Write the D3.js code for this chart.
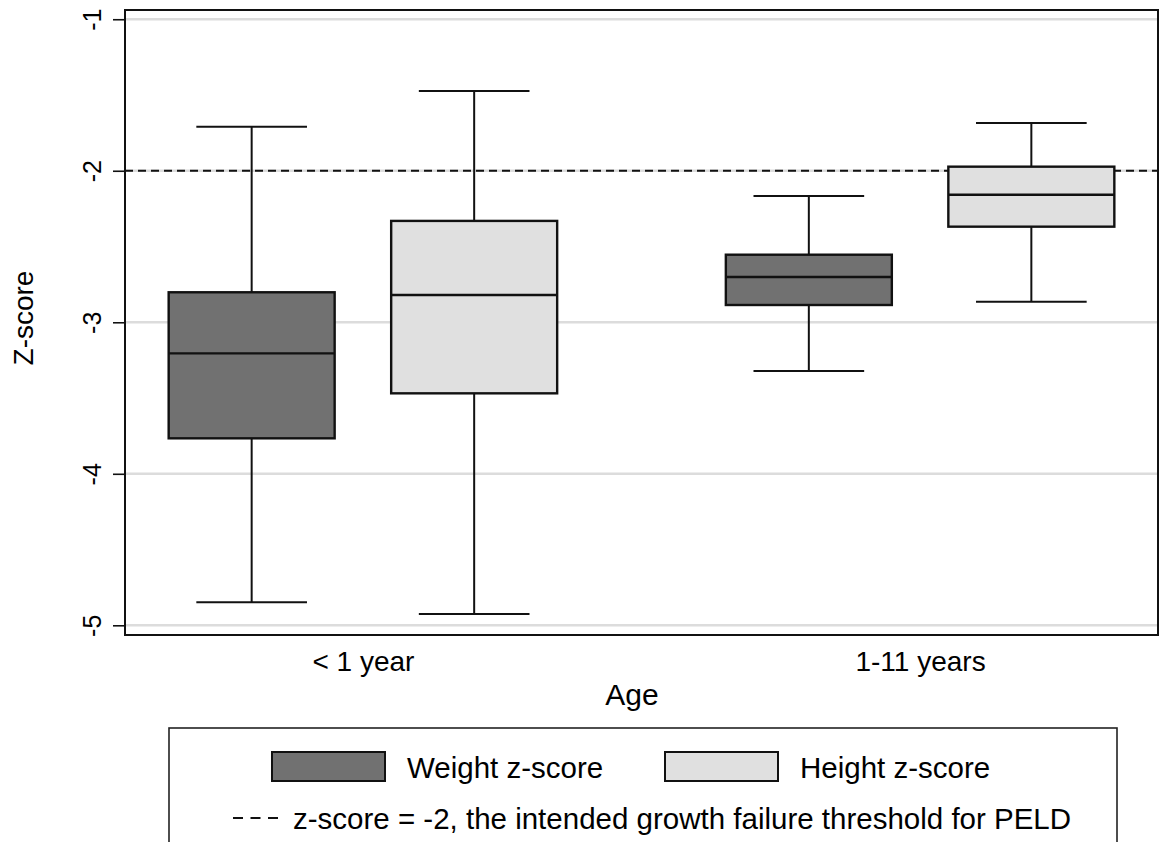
<!DOCTYPE html>
<html>
<head>
<meta charset="utf-8">
<script src="https://cdn.jsdelivr.net/npm/d3@7"></script>
<style>
  html, body { margin: 0; padding: 0; background: #ffffff; }
  svg { display: block; }
  text { font-family: "Liberation Sans", Arial, Helvetica, sans-serif; fill: #000; }
</style>
</head>
<body>
<svg id="chart" width="1160" height="842"></svg>
<script>
// ---- data ----
const categories = ["< 1 year", "1-11 years"];
const series = ["Weight z-score", "Height z-score"];
const seriesColors = ["#717171", "#e0e0e0"];
// [lower whisker, Q1, median, Q3, upper whisker] per category
const weightBoxes = [
  [-4.848, -3.766, -3.205, -2.802, -1.709],
  [-3.321, -2.886, -2.701, -2.554, -2.166]
];
const heightBoxes = [
  [-4.925, -3.469, -2.820, -2.331, -1.473],
  [-2.864, -2.369, -2.158, -1.973, -1.684]
];
const yTicks = [-1, -2, -3, -4, -5];
const yTickLabels = ["-1", "-2", "-3", "-4", "-5"];
const threshold = -2;
const yTitle = "Z-score";
const xTitle = "Age";
const thresholdLabel = "z-score = -2, the intended growth failure threshold for PELD";

// ---- layout ----
const svg = d3.select("#chart");
const plot = { left: 125, right: 1158, top: 10, bottom: 635 };

const y = d3.scaleLinear().domain([-5.064, -0.939]).range([plot.bottom, plot.top]);
const xGroup = d3.scalePoint().domain(categories).range([plot.left, plot.right]).padding(0.427);
const xInner = d3.scaleBand().domain(series).range([-194.25, 194.25]).paddingInner(0.254).paddingOuter(0);
const bw = xInner.bandwidth();
const capW = bw * 2 / 3;

// gridlines
svg.append("g").selectAll("line").data(yTicks).join("line")
  .attr("x1", plot.left).attr("x2", plot.right)
  .attr("y1", d => y(d)).attr("y2", d => y(d))
  .attr("stroke", "#dcdcdc").attr("stroke-width", 2.6);

// threshold line
svg.append("line")
  .attr("x1", plot.left).attr("x2", plot.right)
  .attr("y1", y(threshold)).attr("y2", y(threshold))
  .attr("stroke", "#111").attr("stroke-width", 2).attr("stroke-dasharray", "8,5");

// boxes
const boxData = [];
categories.forEach((c, i) => {
  boxData.push({ cat: c, s: series[0], v: weightBoxes[i], color: seriesColors[0] });
  boxData.push({ cat: c, s: series[1], v: heightBoxes[i], color: seriesColors[1] });
});

const boxes = svg.append("g").selectAll("g").data(boxData).join("g")
  .attr("transform", d => `translate(${xGroup(d.cat) + xInner(d.s) + bw / 2},0)`);

// whisker stems
boxes.append("line").attr("x1", 0).attr("x2", 0)
  .attr("y1", d => y(d.v[0])).attr("y2", d => y(d.v[1]))
  .attr("stroke", "#111").attr("stroke-width", 2);
boxes.append("line").attr("x1", 0).attr("x2", 0)
  .attr("y1", d => y(d.v[3])).attr("y2", d => y(d.v[4]))
  .attr("stroke", "#111").attr("stroke-width", 2);
// caps
boxes.append("line").attr("x1", -capW / 2).attr("x2", capW / 2)
  .attr("y1", d => y(d.v[0])).attr("y2", d => y(d.v[0]))
  .attr("stroke", "#111").attr("stroke-width", 2);
boxes.append("line").attr("x1", -capW / 2).attr("x2", capW / 2)
  .attr("y1", d => y(d.v[4])).attr("y2", d => y(d.v[4]))
  .attr("stroke", "#111").attr("stroke-width", 2);
// box
boxes.append("rect")
  .attr("x", -bw / 2).attr("width", bw)
  .attr("y", d => y(d.v[3])).attr("height", d => y(d.v[1]) - y(d.v[3]))
  .attr("fill", d => d.color).attr("stroke", "#111").attr("stroke-width", 2.4);
// median
boxes.append("line").attr("x1", -bw / 2).attr("x2", bw / 2)
  .attr("y1", d => y(d.v[2])).attr("y2", d => y(d.v[2]))
  .attr("stroke", "#111").attr("stroke-width", 2.4);

// frame
svg.append("rect")
  .attr("x", plot.left).attr("y", plot.top)
  .attr("width", plot.right - plot.left).attr("height", plot.bottom - plot.top)
  .attr("fill", "none").attr("stroke", "#111").attr("stroke-width", 2);

// y axis
const yAxis = svg.append("g").attr("transform", `translate(${plot.left},0)`)
  .call(d3.axisLeft(y).tickValues(yTicks).tickSize(12).tickFormat((d, i) => yTickLabels[i]));
yAxis.select(".domain").remove();
yAxis.selectAll(".tick line").attr("stroke", "#111").attr("stroke-width", 1.6);
yAxis.selectAll(".tick text")
  .attr("x", 0).attr("y", 0).attr("dy", 0)
  .attr("transform", "translate(-24,0) rotate(-90)")
  .style("text-anchor", "middle")
  .style("font-size", "25px")
  .style("font-family", "'Liberation Sans', Arial, sans-serif")
  .attr("fill", "#000");

// x axis
const xAxis = svg.append("g").attr("transform", `translate(0,${plot.bottom})`)
  .call(d3.axisBottom(xGroup).tickSize(0));
xAxis.select(".domain").remove();
xAxis.selectAll(".tick text")
  .attr("y", 36).attr("dy", 0)
  .style("font-size", "28px")
  .style("font-family", "'Liberation Sans', Arial, sans-serif")
  .attr("fill", "#000");

// axis titles
svg.append("text").attr("x", 632).attr("y", 705)
  .attr("text-anchor", "middle").style("font-size", "30px").text(xTitle);
svg.append("text").attr("transform", "translate(33,318) rotate(-90)")
  .attr("text-anchor", "middle").style("font-size", "28px").text(yTitle);

// legend
const legend = svg.append("g");
legend.append("rect")
  .attr("x", 169).attr("y", 728).attr("width", 948).attr("height", 140)
  .attr("fill", "#fff").attr("stroke", "#222").attr("stroke-width", 1.6);

const legendItems = [
  { label: series[0], color: seriesColors[0], sx: 272, tx: 407 },
  { label: series[1], color: seriesColors[1], sx: 665, tx: 800 }
];
const li = legend.selectAll("g.item").data(legendItems).join("g").attr("class", "item");
li.append("rect")
  .attr("x", d => d.sx).attr("y", 752).attr("width", 113).attr("height", 29)
  .attr("fill", d => d.color).attr("stroke", "#111").attr("stroke-width", 2);
li.append("text")
  .attr("x", d => d.tx).attr("y", 778)
  .style("font-size", "29.5px").text(d => d.label);

legend.append("line")
  .attr("x1", 233).attr("x2", 278).attr("y1", 818).attr("y2", 818)
  .attr("stroke", "#111").attr("stroke-width", 2).attr("stroke-dasharray", "10,7.5");
legend.append("text").attr("x", 293).attr("y", 829)
  .style("font-size", "29.5px").text(thresholdLabel);
</script>
</body>
</html>
